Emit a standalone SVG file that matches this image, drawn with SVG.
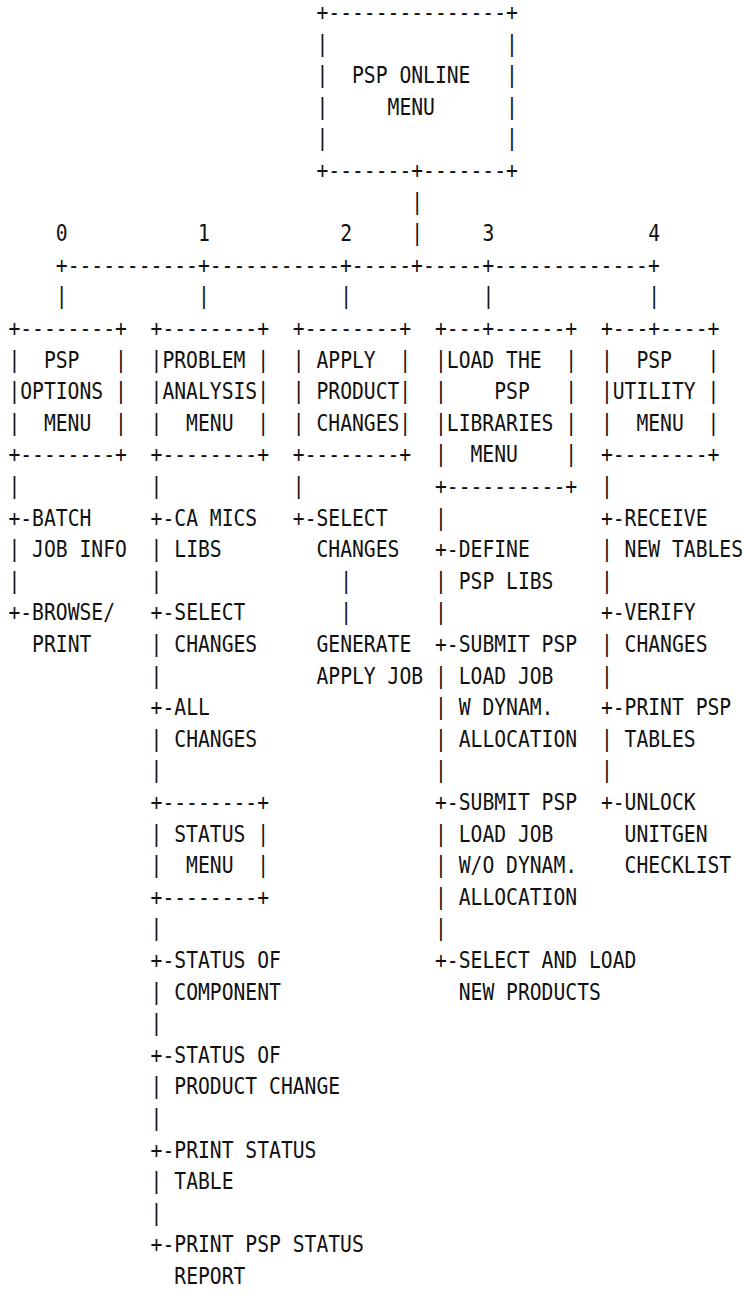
<svg xmlns="http://www.w3.org/2000/svg" width="742" height="1303" viewBox="0 0 742 1303">
<style>
text{font-family:"DejaVu Sans Mono","Liberation Mono",monospace;font-size:22.5px;fill:#111;white-space:pre}
</style>
<rect width="742" height="1303" fill="#fff"/>
<g transform="scale(0.87486,1)">
<g id="connectors">
<text x="470.13" y="209.6">|</text>
<text x="470.13" y="241.2">|</text>
<text x="63.78" y="272.8" xml:space="preserve">+-----------+-----------+-----+-----+-------------+</text>
<text x="63.78" y="304.4">|</text><text x="226.32" y="304.4">|</text><text x="388.86" y="304.4">|</text><text x="551.4" y="304.4">|</text><text x="741.03" y="304.4">|</text>
<g id="branch-labels">
<text x="63.78" y="241.2">0</text><text x="226.32" y="241.2">1</text><text x="388.86" y="241.2">2</text><text x="551.4" y="241.2">3</text><text x="741.03" y="241.2">4</text>
</g>
<text id="tree-0"><tspan x="9.6" y="494">|</tspan><tspan x="9.6" y="525.6">+-</tspan><tspan x="9.6" y="557.2">|</tspan><tspan x="9.6" y="588.8">|</tspan><tspan x="9.6" y="620.4">+-</tspan></text>
<text id="tree-1"><tspan x="172.14" y="494">|</tspan><tspan x="172.14" y="525.6">+-</tspan><tspan x="172.14" y="557.2">|</tspan><tspan x="172.14" y="588.8">|</tspan><tspan x="172.14" y="620.4">+-</tspan><tspan x="172.14" y="652">|</tspan><tspan x="172.14" y="683.6">|</tspan><tspan x="172.14" y="715.2">+-</tspan><tspan x="172.14" y="746.8">|</tspan><tspan x="172.14" y="778.4">|</tspan><tspan x="172.14" y="936.4">|</tspan><tspan x="172.14" y="968">+-</tspan><tspan x="172.14" y="999.6">|</tspan><tspan x="172.14" y="1031.2">|</tspan><tspan x="172.14" y="1062.8">+-</tspan><tspan x="172.14" y="1094.4">|</tspan><tspan x="172.14" y="1126">|</tspan><tspan x="172.14" y="1157.6">+-</tspan><tspan x="172.14" y="1189.2">|</tspan><tspan x="172.14" y="1220.8">|</tspan><tspan x="172.14" y="1252.4">+-</tspan></text>
<text id="tree-2"><tspan x="334.68" y="494">|</tspan><tspan x="334.68" y="525.6">+-</tspan><tspan x="388.86" y="588.8">|</tspan><tspan x="388.86" y="620.4">|</tspan></text>
<text id="tree-3"><tspan x="497.22" y="525.6">|</tspan><tspan x="497.22" y="557.2">+-</tspan><tspan x="497.22" y="588.8">|</tspan><tspan x="497.22" y="620.4">|</tspan><tspan x="497.22" y="652">+-</tspan><tspan x="497.22" y="683.6">|</tspan><tspan x="497.22" y="715.2">|</tspan><tspan x="497.22" y="746.8">|</tspan><tspan x="497.22" y="778.4">|</tspan><tspan x="497.22" y="810">+-</tspan><tspan x="497.22" y="841.6">|</tspan><tspan x="497.22" y="873.2">|</tspan><tspan x="497.22" y="904.8">|</tspan><tspan x="497.22" y="936.4">|</tspan><tspan x="497.22" y="968">+-</tspan></text>
<text id="tree-4"><tspan x="686.85" y="494">|</tspan><tspan x="686.85" y="525.6">+-</tspan><tspan x="686.85" y="557.2">|</tspan><tspan x="686.85" y="588.8">|</tspan><tspan x="686.85" y="620.4">+-</tspan><tspan x="686.85" y="652">|</tspan><tspan x="686.85" y="683.6">|</tspan><tspan x="686.85" y="715.2">+-</tspan><tspan x="686.85" y="746.8">|</tspan><tspan x="686.85" y="778.4">|</tspan><tspan x="686.85" y="810">+-</tspan></text>
</g>
<g id="node-psp-online-menu">
<text x="361.77" y="20" xml:space="preserve">+---------------+</text>
<text x="361.77" y="51.6" xml:space="preserve">|               |</text>
<text x="361.77" y="83.2" xml:space="preserve">|  PSP ONLINE   |</text>
<text x="361.77" y="114.8" xml:space="preserve">|     MENU      |</text>
<text x="361.77" y="146.4" xml:space="preserve">|               |</text>
<text x="361.77" y="178" xml:space="preserve">+-------+-------+</text>
</g>
<g id="node-psp-options-menu">
<text x="9.6" y="336" xml:space="preserve">+--------+</text>
<text x="9.6" y="367.6" xml:space="preserve">|  PSP   |</text>
<text x="9.6" y="399.2" xml:space="preserve">|OPTIONS |</text>
<text x="9.6" y="430.8" xml:space="preserve">|  MENU  |</text>
<text x="9.6" y="462.4" xml:space="preserve">+--------+</text>
</g>
<g id="node-problem-analysis-menu">
<text x="172.14" y="336" xml:space="preserve">+--------+</text>
<text x="172.14" y="367.6" xml:space="preserve">|PROBLEM |</text>
<text x="172.14" y="399.2" xml:space="preserve">|ANALYSIS|</text>
<text x="172.14" y="430.8" xml:space="preserve">|  MENU  |</text>
<text x="172.14" y="462.4" xml:space="preserve">+--------+</text>
</g>
<g id="node-apply-product-changes">
<text x="334.68" y="336" xml:space="preserve">+--------+</text>
<text x="334.68" y="367.6" xml:space="preserve">| APPLY  |</text>
<text x="334.68" y="399.2" xml:space="preserve">| PRODUCT|</text>
<text x="334.68" y="430.8" xml:space="preserve">| CHANGES|</text>
<text x="334.68" y="462.4" xml:space="preserve">+--------+</text>
</g>
<g id="node-load-psp-libraries-menu">
<text x="497.22" y="336" xml:space="preserve">+---+------+</text>
<text x="497.22" y="367.6" xml:space="preserve">|LOAD THE  |</text>
<text x="497.22" y="399.2" xml:space="preserve">|    PSP   |</text>
<text x="497.22" y="430.8" xml:space="preserve">|LIBRARIES |</text>
<text x="497.22" y="462.4" xml:space="preserve">|  MENU    |</text>
<text x="497.22" y="494" xml:space="preserve">+----------+</text>
</g>
<g id="node-psp-utility-menu">
<text x="686.85" y="336" xml:space="preserve">+---+----+</text>
<text x="686.85" y="367.6" xml:space="preserve">|  PSP   |</text>
<text x="686.85" y="399.2" xml:space="preserve">|UTILITY |</text>
<text x="686.85" y="430.8" xml:space="preserve">|  MENU  |</text>
<text x="686.85" y="462.4" xml:space="preserve">+--------+</text>
</g>
<g id="node-status-menu">
<text x="172.14" y="810" xml:space="preserve">+--------+</text>
<text x="172.14" y="841.6" xml:space="preserve">| STATUS |</text>
<text x="172.14" y="873.2" xml:space="preserve">|  MENU  |</text>
<text x="172.14" y="904.8" xml:space="preserve">+--------+</text>
</g>
<g id="node-batch-job-info"><text x="36.69" y="525.6">BATCH</text><text x="36.69" y="557.2">JOB INFO</text></g>
<g id="node-browse-print"><text x="36.69" y="620.4">BROWSE/</text><text x="36.69" y="652">PRINT</text></g>
<g id="node-ca-mics-libs"><text x="199.23" y="525.6">CA MICS</text><text x="199.23" y="557.2">LIBS</text></g>
<g id="node-select-changes-1"><text x="199.23" y="620.4">SELECT</text><text x="199.23" y="652">CHANGES</text></g>
<g id="node-all-changes"><text x="199.23" y="715.2">ALL</text><text x="199.23" y="746.8">CHANGES</text></g>
<g id="node-status-of-component"><text x="199.23" y="968">STATUS OF</text><text x="199.23" y="999.6">COMPONENT</text></g>
<g id="node-status-of-product-change"><text x="199.23" y="1062.8">STATUS OF</text><text x="199.23" y="1094.4">PRODUCT CHANGE</text></g>
<g id="node-print-status-table"><text x="199.23" y="1157.6">PRINT STATUS</text><text x="199.23" y="1189.2">TABLE</text></g>
<g id="node-print-psp-status-report"><text x="199.23" y="1252.4">PRINT PSP STATUS</text><text x="199.23" y="1284">REPORT</text></g>
<g id="node-select-changes-2"><text x="361.77" y="525.6">SELECT</text><text x="361.77" y="557.2">CHANGES</text></g>
<g id="node-generate-apply-job"><text x="361.77" y="652">GENERATE</text><text x="361.77" y="683.6">APPLY JOB</text></g>
<g id="node-define-psp-libs"><text x="524.31" y="557.2">DEFINE</text><text x="524.31" y="588.8">PSP LIBS</text></g>
<g id="node-submit-dynam"><text x="524.31" y="652">SUBMIT PSP</text><text x="524.31" y="683.6">LOAD JOB</text><text x="524.31" y="715.2">W DYNAM.</text><text x="524.31" y="746.8">ALLOCATION</text></g>
<g id="node-submit-no-dynam"><text x="524.31" y="810">SUBMIT PSP</text><text x="524.31" y="841.6">LOAD JOB</text><text x="524.31" y="873.2">W/O DYNAM.</text><text x="524.31" y="904.8">ALLOCATION</text></g>
<g id="node-select-load-products"><text x="524.31" y="968">SELECT AND LOAD</text><text x="524.31" y="999.6">NEW PRODUCTS</text></g>
<g id="node-receive-new-tables"><text x="713.94" y="525.6">RECEIVE</text><text x="713.94" y="557.2">NEW TABLES</text></g>
<g id="node-verify-changes"><text x="713.94" y="620.4">VERIFY</text><text x="713.94" y="652">CHANGES</text></g>
<g id="node-print-psp-tables"><text x="713.94" y="715.2">PRINT PSP</text><text x="713.94" y="746.8">TABLES</text></g>
<g id="node-unlock-unitgen-checklist"><text x="713.94" y="810">UNLOCK</text><text x="713.94" y="841.6">UNITGEN</text><text x="713.94" y="873.2">CHECKLIST</text></g>
</g>
</svg>
